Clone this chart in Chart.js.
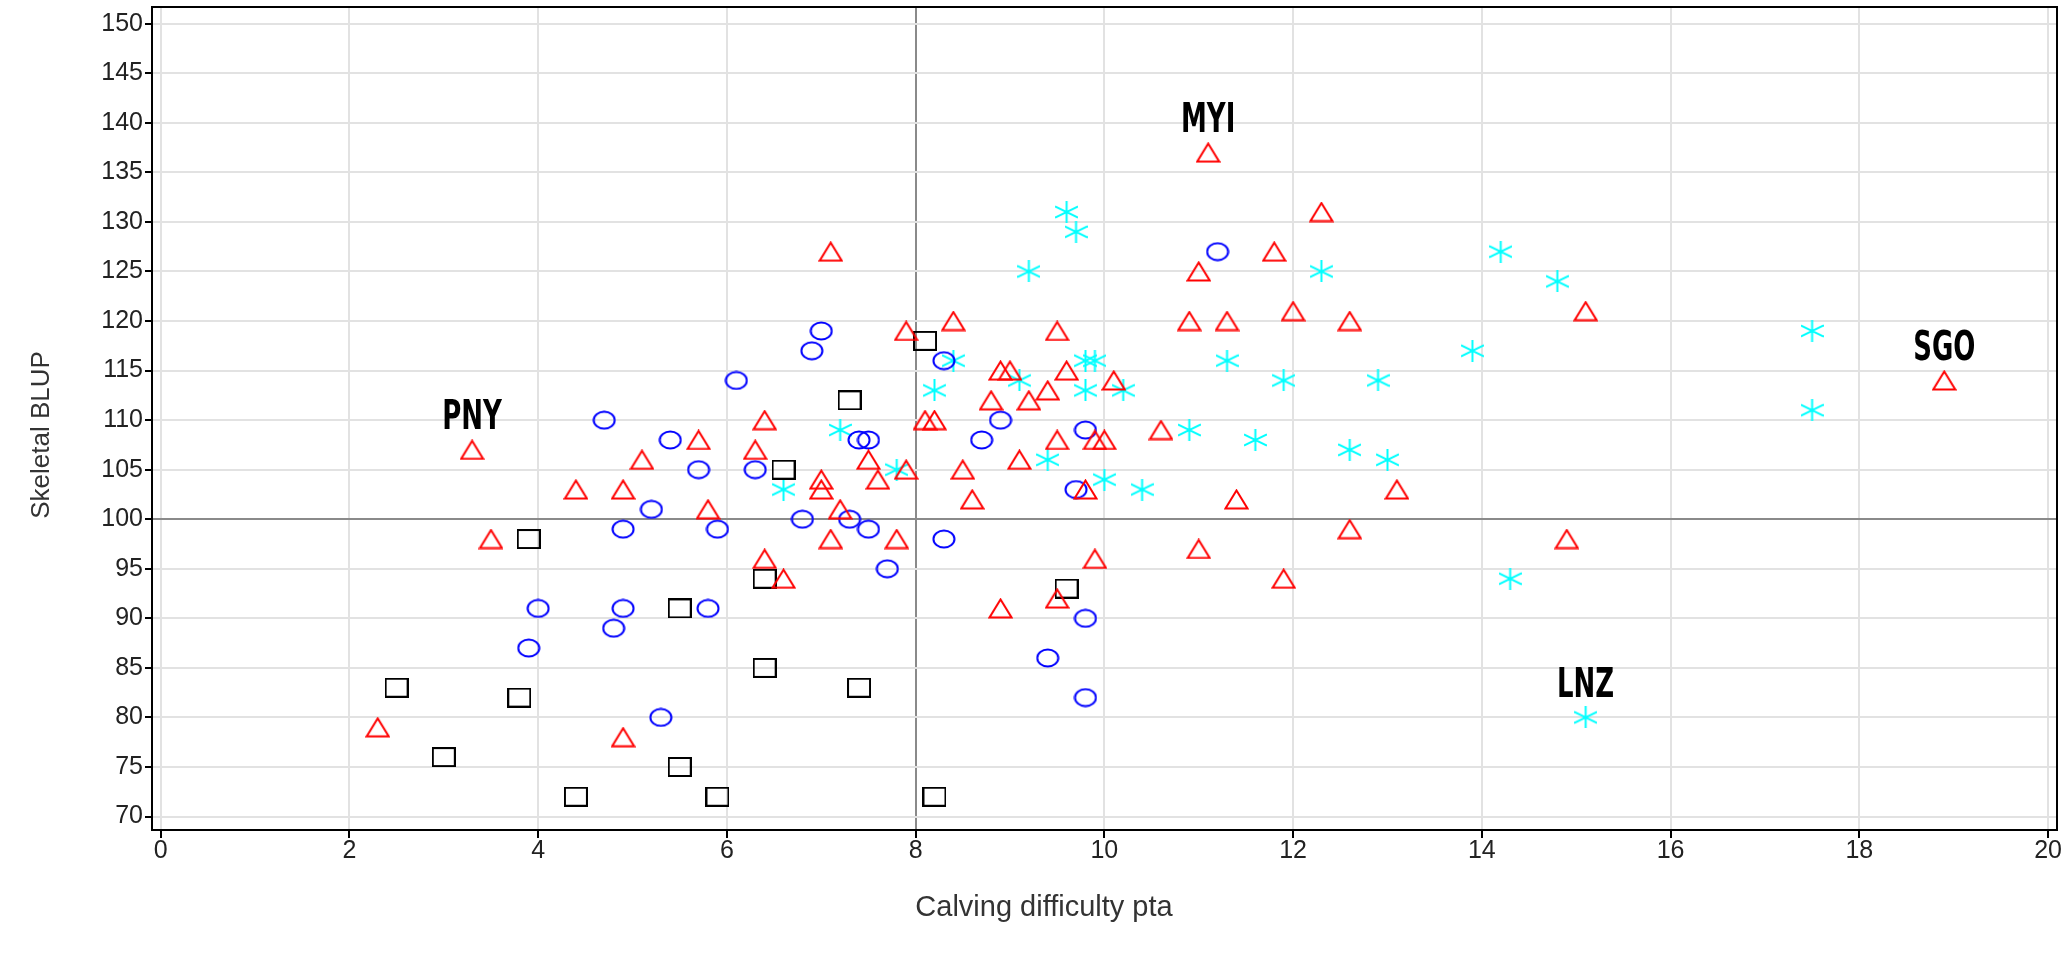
<!DOCTYPE html>
<html>
<head>
<meta charset="utf-8">
<script src="https://cdn.jsdelivr.net/npm/chart.js@4.4.0/dist/chart.umd.min.js"></script>
<style>
  html, body { margin: 0; padding: 0; background: #fff; }
  #wrap { width: 2065px; height: 960px; }
</style>
</head>
<body>
<div id="wrap"><canvas id="chart" width="2065" height="960"></canvas></div>
<script>
// axis ticks
var xTicks = [0, 2, 4, 6, 8, 10, 12, 14, 16, 18, 20];
var yTicks = [70, 75, 80, 85, 90, 95, 100, 105, 110, 115, 120, 125, 130, 135, 140, 145, 150];

// red triangles
var triX = [2.3, 3.3, 3.5, 4.4, 4.9, 4.9, 5.1, 5.7, 5.8, 6.3, 6.4, 6.4, 6.6, 7.0, 7.0, 7.1, 7.1, 7.2, 7.5, 7.6, 7.8,
            7.9, 7.9, 8.1, 8.2, 8.4, 8.5, 8.6, 8.8, 8.9, 8.9, 9.0, 9.1, 9.2, 9.4, 9.5, 9.5, 9.5, 9.6, 9.8, 9.9,
            9.9, 10.0, 10.1, 10.6, 10.9, 11.0, 11.0, 11.1, 11.3, 11.4, 11.8, 11.9, 12.0, 12.3, 12.6, 12.6, 13.1, 14.9, 15.1, 18.9];
var triY = [79, 107, 98, 103, 103, 78, 106, 108, 101, 107, 110, 96, 94, 104, 103, 127, 98, 101, 106, 104, 98,
            119, 105, 110, 110, 120, 105, 102, 112, 115, 91, 115, 106, 112, 113, 119, 108, 92, 115, 103, 108,
            96, 108, 114, 109, 120, 125, 97, 137, 120, 102, 127, 94, 121, 131, 120, 99, 103, 98, 121, 114];

// blue circles
var circX = [3.9, 4.0, 4.7, 4.8, 4.9, 4.9, 5.2, 5.3, 5.4, 5.7, 5.8, 5.9, 6.1, 6.3, 6.8, 6.9,
             7.0, 7.3, 7.4, 7.5, 7.5, 7.7, 8.3, 8.3, 8.7, 8.9, 9.4, 9.7, 9.8, 9.8, 9.8, 11.2];
var circY = [87, 91, 110, 89, 99, 91, 101, 80, 108, 105, 91, 99, 114, 105, 100, 117,
             119, 100, 108, 108, 99, 95, 116, 98, 108, 110, 86, 103, 109, 90, 82, 127];

// black squares
var sqX = [2.5, 3.0, 3.8, 3.9, 4.4, 5.5, 5.5, 5.9, 6.4, 6.4, 6.6, 7.3, 7.4, 8.1, 8.2, 9.6];
var sqY = [83, 76, 82, 98, 72, 91, 75, 72, 94, 85, 105, 112, 83, 118, 72, 93];

// cyan stars
var starX = [6.6, 7.2, 7.8, 8.2, 8.4, 9.1, 9.2, 9.4, 9.6, 9.7, 9.8, 9.8, 9.9, 10.0, 10.2, 10.4,
             10.9, 11.3, 11.6, 11.9, 12.3, 12.6, 12.9, 13.0, 13.9, 14.2, 14.3, 14.8, 15.1, 17.5, 17.5];
var starY = [103, 109, 105, 113, 116, 114, 125, 106, 131, 129, 116, 113, 116, 104, 113, 103,
             109, 116, 108, 114, 125, 107, 114, 106, 117, 127, 94, 124, 80, 119, 111];

// labelled points
var labelText = ['PNY', 'MYI', 'SGO', 'LNZ'];
var labelX = [3.3, 11.1, 18.9, 15.1];
var labelY = [107, 137, 114, 80];

var xTitle = 'Calving difficulty pta';
var yTitle = 'Skeletal BLUP';

function zip(xs, ys) {
    return xs.map(function(x, i) { return { x: x, y: ys[i] }; });
}

// small canvases used as point markers
function marker(w, h, color, draw) {
    var c = document.createElement('canvas');
    c.width = w; c.height = h;
    var g = c.getContext('2d');
    g.strokeStyle = color;
    g.lineWidth = 2;
    draw(g, w, h);
    return c;
}
var triMark = marker(25, 21, '#ff0000', function(g, w, h) {
    g.beginPath(); g.moveTo(w / 2, 1.5); g.lineTo(w - 1.5, h - 1.5); g.lineTo(1.5, h - 1.5); g.closePath(); g.stroke();
});
var circMark = marker(24, 20, '#0000ff', function(g, w, h) {
    g.beginPath(); g.ellipse(w / 2, h / 2, w / 2 - 1.5, h / 2 - 1.5, 0, 0, Math.PI * 2); g.stroke();
});
var sqMark = marker(24, 20, '#000000', function(g, w, h) {
    g.strokeRect(1, 1, w - 2, h - 2);
});
var starMark = marker(23, 22, '#00ffff', function(g, w, h) {
    g.beginPath();
    g.moveTo(w / 2, 0); g.lineTo(w / 2, h);
    g.moveTo(0, h * 0.25); g.lineTo(w, h * 0.75);
    g.moveTo(0, h * 0.75); g.lineTo(w, h * 0.25);
    g.stroke();
});

var FONT = "'Liberation Sans', Arial, sans-serif";

// box round the plot + axis titles
var framePlugin = {
    id: 'frame',
    afterDraw: function(chart) {
        var a = chart.chartArea, ctx = chart.ctx;
        ctx.save();
        ctx.strokeStyle = '#000';
        ctx.lineWidth = 2;
        ctx.beginPath();
        ctx.moveTo(a.left, a.top); ctx.lineTo(a.right, a.top); ctx.lineTo(a.right, a.bottom);
        ctx.stroke();

        ctx.fillStyle = '#333';
        ctx.textAlign = 'center';
        ctx.textBaseline = 'middle';
        ctx.font = '29px ' + FONT;
        ctx.fillText(xTitle, a.left + 892, a.bottom + 78);
        ctx.translate(42, a.top + 428);
        ctx.rotate(-Math.PI / 2);
        ctx.font = '26px ' + FONT;
        ctx.fillText(yTitle, 0, 0);
        ctx.restore();
    }
};

var labelPlugin = {
    id: 'pointLabels',
    afterDatasetsDraw: function(chart) {
        var ctx = chart.ctx, xs = chart.scales.x, ys = chart.scales.y;
        ctx.save();
        ctx.fillStyle = '#000';
        ctx.textAlign = 'center';
        ctx.textBaseline = 'middle';
        ctx.font = "bold 34px 'Liberation Sans Narrow', 'DejaVu Sans Condensed', sans-serif";
        for (var i = 0; i < labelText.length; i++) {
            var px = xs.getPixelForValue(labelX[i]);
            var py = ys.getPixelForValue(labelY[i]) - 31;
            ctx.save();
            ctx.translate(px, py);
            ctx.scale(0.85, 1.2);
            ctx.fillText(labelText[i], 0, 0);
            ctx.restore();
        }
        ctx.restore();
    }
};

function gridColor(refValue) {
    return function(c) {
        return c.tick && c.tick.value === refValue ? '#8a8a8a' : '#e2e2e2';
    };
}

new Chart(document.getElementById('chart').getContext('2d'), {
    type: 'scatter',
    data: {
        datasets: [
            { label: 'tri', data: zip(triX, triY), pointStyle: triMark },
            { label: 'circ', data: zip(circX, circY), pointStyle: circMark },
            { label: 'sq', data: zip(sqX, sqY), pointStyle: sqMark },
            { label: 'star', data: zip(starX, starY), pointStyle: starMark }
        ]
    },
    options: {
        responsive: false,
        animation: false,
        events: [],
        layout: { autoPadding: false, padding: { top: 7, right: 8, left: 0, bottom: 0 } },
        plugins: {
            legend: { display: false },
            tooltip: { enabled: false }
        },
        scales: {
            x: {
                type: 'linear',
                min: -0.092,
                max: 20.095,
                afterBuildTicks: function(s) { s.ticks = xTicks.map(function(v) { return { value: v }; }); },
                afterFit: function(s) { s.height = 130; s.paddingLeft = 0; s.paddingRight = 0; },
                grid: { color: gridColor(8), lineWidth: 2, tickColor: '#000', tickLength: 8, tickWidth: 2 },
                border: { display: true, color: '#000', width: 2 },
                ticks: { color: '#222', font: { family: FONT, size: 25 }, padding: -2, maxRotation: 0, autoSkip: false }
            },
            y: {
                type: 'linear',
                min: 68.64,
                max: 151.69,
                afterBuildTicks: function(s) { s.ticks = yTicks.map(function(v) { return { value: v }; }); },
                afterFit: function(s) { s.width = 152; s.paddingTop = 0; s.paddingBottom = 0; },
                grid: { color: gridColor(100), lineWidth: 2, tickColor: '#000', tickLength: 7, tickWidth: 2 },
                border: { display: true, color: '#000', width: 2 },
                ticks: { color: '#222', font: { family: FONT, size: 25 }, padding: 2, autoSkip: false }
            }
        }
    },
    plugins: [framePlugin, labelPlugin]
});
</script>
</body>
</html>
